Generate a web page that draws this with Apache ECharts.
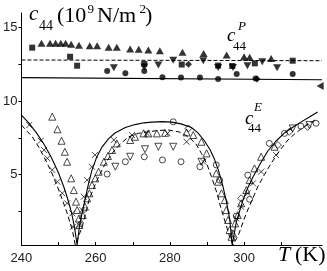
<!DOCTYPE html>
<html><head><meta charset="utf-8">
<script src="https://cdn.jsdelivr.net/npm/echarts@6/dist/echarts.min.js"></script>
<style>html,body{margin:0;padding:0;background:#fff}#c{width:327px;height:271px}</style>
</head><body><div id="c"></div>
<script>
// ---- axis ticks ----
const xTickValues = [250, 260, 270, 280, 290, 300, 310];
const xLabelValues = [240, 260, 280, 300];
const yTickValues = [2.5, 5, 7.5, 10, 12.5, 15];
const yLabelValues = [5, 10, 15];

// ---- c44^P data (filled markers) ----
const pUpTriangles = [[245.4,13.94],[247.7,13.94],[249.2,13.94],[250.6,13.94],[251.9,13.94],[253.4,13.87],[255.5,13.8],[258.4,13.77],[260.4,13.77],[263.5,13.66],[265.7,13.66],[269.3,13.55],[271.6,13.53],[274.2,13.48],[277.3,13.43],[283.4,13.32],[289.1,13.25],[295.3,13.14],[300.0,13.02],[301.5,12.98],[307.3,12.9]];
const pSquares = [[242.9,13.64],[253.1,13.02],[255.0,12.41],[273.1,12.53],[283.2,12.49],[293.0,12.42],[296.8,12.39],[302.9,12.57],[313.1,12.75]];
const pDownTriangles = [[264.9,12.27],[273.1,12.32],[276.9,12.46],[280.9,12.78],[289.0,12.75],[293.0,12.29],[297.0,12.29],[300.9,12.40],[304.9,12.68],[308.9,12.27]];
const pCircles = [[263.1,12.05],[268.0,11.89],[273.1,12.05],[278.0,11.62],[283.0,11.61],[288.1,11.61],[293.0,11.5],[298.0,11.84],[303.1,11.54],[313.1,11.84]];
const pDiamonds = [[285.0,12.51],[303.5,11.5]];
const pLeftTriangles = [[320.5,11.03]];
const pSolidLine = [[240,11.6],[321,11.45]];
const pDashedLine = [[240,12.8],[321,12.75]];

// ---- c44^E data (open markers) ----
const eCrosses = [[242.1,8.37],[245.2,7.3],[246.1,6.67],[247.0,6.1],[248.3,5.31],[249.7,4.51],[251.0,3.72],[252.3,3.04],[253.7,2.36],[253.9,1.44],[255.6,1.56],[256.4,2.58],[256.8,3.49],[257.7,4.62],[259.0,5.53],[259.8,6.33],[264.9,7.35],[269.8,7.69],[273.8,7.8],[279.4,7.8],[284.5,7.23],[289.0,5.87],[297.9,2.01],[299.2,2.8],[301.0,3.72],[302.4,4.4],[304.6,5.19],[308.6,6.33]];
const eUpTriangles = [[248.3,8.94],[249.7,8.08],[250.8,7.3],[251.7,6.55],[252.3,5.87],[253.4,4.74],[254.1,3.94],[254.7,3.15],[255.0,2.58],[255.5,2.01],[255.6,1.56],[256.5,2.24],[257.1,2.81],[257.7,3.38],[258.3,3.72],[259.0,4.28],[259.9,4.74],[260.8,5.19],[262.2,5.87],[263.3,6.26],[264.4,6.67],[265.7,7.12],[269.3,7.35],[270.6,7.57],[272.9,7.8],[274.2,7.8],[276.5,7.8],[278.7,7.84],[284.5,7.87],[286.3,7.69],[288.5,7.23],[289.9,6.44],[292.5,5.08],[293.0,4.51],[293.9,3.72],[294.8,3.26],[295.2,2.58],[295.7,1.9],[296.1,1.22],[296.6,0.76],[297.0,0.99],[297.6,1.67],[298.3,2.24],[299.2,3.04],[300.6,3.94],[301.5,4.62],[302.8,5.42],[304.6,6.21],[308.2,6.89]];
const eDownTriangles = [[265.3,5.53],[269.3,6.21],[273.3,6.72],[276.9,6.89],[280.9,6.89],[288.5,5.87],[313.1,8.14],[317.6,8.37]];
const eCircles = [[263.1,5.03],[268.0,5.87],[273.1,6.21],[278.0,5.99],[280.9,8.59],[283.0,5.87],[288.1,5.53],[292.5,5.65],[293.4,4.62],[297.9,2.17],[301.0,4.96],[301.5,3.31],[306.8,7.12],[310.9,7.8],[315.3,8.3],[319.4,8.49]];
const eDiamonds = [[285.0,8.14],[299.2,3.38],[309.1,7.01],[312.2,7.91],[317.1,8.25]];
const eSolidCurve = [[240,9.05],[242,8.5],[244,7.85],[246,7.1],[248,6.2],[250,5.1],[251.5,4.1],[252.5,3.3],[253.5,2.4],[254.3,1.4],[255,0.2],[255.7,1.6],[256.8,2.9],[258,4.3],[259,5.3],[260.3,6.2],[261.7,6.87],[263.5,7.45],[265.2,7.83],[268,8.2],[270.6,8.4],[273,8.52],[275.1,8.57],[278,8.6],[280.5,8.57],[283,8.45],[285.8,8.2],[287.5,7.85],[289.3,7.3],[290.8,6.7],[292,6.05],[293.2,5.2],[294.3,4.2],[295.2,3.2],[296.1,2.0],[296.8,0.2],[297.9,1.76],[299.7,3.26],[301,4.1],[302.4,4.83],[304.5,5.8],[306.4,6.6],[308.5,7.25],[310.9,7.83],[313,8.2],[315.3,8.57],[317.5,8.9],[319.8,9.26]];
const eDashedCurve = [[240,8.37],[241.5,7.95],[242.9,7.57],[244.7,6.85],[246.5,5.99],[248.2,5.1],[249.7,4.17],[251,3.3],[252.3,2.38],[253.7,1.22],[254.5,0.2],[255.4,0.8],[256.4,1.45],[258.2,3.26],[259.5,4.1],[260.8,4.85],[262.5,5.7],[264.4,6.44],[266.5,7.05],[268.9,7.57],[271.5,7.8],[274.2,7.91],[277,8.0],[279.6,8.03],[282.5,7.9],[285,7.57],[287,7.1],[288.5,6.44],[290,5.7],[291.2,4.85],[292.6,3.8],[293.9,2.58],[295,1.7],[296.1,0.76],[297,0.2],[298.5,0.9],[300.6,2.36],[302.2,3.3],[303.7,4.17],[305.5,5.0],[307.3,5.76],[309.5,6.6],[311.8,7.35],[314,7.85],[316.2,8.25],[319.8,8.83]];

const SERIF = '"Liberation Serif", "DejaVu Serif", serif';
const SANS = '"Liberation Sans", Arial, sans-serif';

function txt(text, x, baseline, size, italic) {
  return {
    type: 'text', x: x, y: baseline - 0.33 * size, silent: true,
    style: { text: text, x: 0, y: 0, fill: '#000', textAlign: 'left', textVerticalAlign: 'middle',
      font: (italic ? 'italic ' : '') + size + 'px ' + SERIF }
  };
}
function filled(data, symbol, size, rotate) {
  return { type: 'scatter', data: data, symbol: symbol, symbolSize: size, symbolRotate: rotate || 0,
    itemStyle: { color: '#000' }, z: 3 };
}
function open(data, symbol, size, rotate) {
  return { type: 'scatter', data: data, symbol: symbol, symbolSize: size, symbolRotate: rotate || 0,
    itemStyle: { color: 'rgba(0,0,0,0)', borderColor: '#000', borderWidth: 0.9 }, z: 3 };
}
function line(data, dashed, width) {
  return { type: 'line', data: data, showSymbol: false, symbol: 'none', smooth: false,
    lineStyle: { color: '#000', width: width, type: dashed || 'solid' }, z: 2 };
}

const chart = echarts.init(document.getElementById('c'), null, { renderer: 'canvas' });
chart.setOption({
  animation: false,
  backgroundColor: '#fff',
  grid: { left: 19, right: 5, top: 13, bottom: 26, containLabel: false },
  xAxis: {
    type: 'value', min: 240, max: 321,
    axisLine: { lineStyle: { color: '#000', width: 1 } },
    axisTick: { inside: true, length: 3, customValues: xTickValues, lineStyle: { color: '#000' } },
    axisLabel: { customValues: xLabelValues, color: '#222', fontSize: 13, fontFamily: SANS, margin: 7 },
    splitLine: { show: false }
  },
  yAxis: {
    type: 'value', min: 0.2, max: 16,
    axisLine: { show: true, lineStyle: { color: '#000', width: 1 } },
    axisTick: { show: true, inside: false, length: 3, customValues: yTickValues, lineStyle: { color: '#000' } },
    axisLabel: { customValues: yLabelValues, color: '#222', fontSize: 13, fontFamily: SANS, margin: 4 },
    splitLine: { show: false }
  },
  series: [
    line(pSolidLine, 'solid', 1.1),
    line(pDashedLine, [4, 2], 1),
    line(eSolidCurve, 'solid', 1.1),
    line(eDashedCurve, [5, 3], 1),
    filled(pUpTriangles, 'triangle', [8, 7]),
    filled(pSquares, 'rect', 6),
    filled(pDownTriangles, 'triangle', [8, 7], 180),
    filled(pCircles, 'circle', 6),
    filled(pDiamonds, 'diamond', 7),
    filled(pLeftTriangles, 'triangle', [8, 7], 90),
    open(eCrosses, 'path://M0,0L10,10M10,0L0,10', 6),
    open(eUpTriangles, 'triangle', 7),
    open(eDownTriangles, 'triangle', 7, 180),
    open(eCircles, 'circle', 6),
    open(eDiamonds, 'diamond', 7)
  ],
  graphic: [
    txt('c', 29, 21, 21, true),
    txt('44', 39, 30.5, 14, false),
    txt('(10', 57, 23, 22, false),
    txt('9', 87.5, 13.5, 13, false),
    txt('N/m', 97, 23, 22, false),
    txt('2', 139.5, 13.5, 13, false),
    txt(')', 145, 23, 22, false),
    txt('c', 227, 42, 19, true),
    txt('P', 238, 30.5, 13, true),
    txt('44', 233, 50.5, 13, false),
    txt('c', 245, 125, 19, true),
    txt('E', 254, 112, 13, true),
    txt('44', 248, 133, 13, false),
    txt('T', 278, 262, 22, true),
    txt('(K)', 295, 262, 22, false)
  ]
});
</script></body></html>
